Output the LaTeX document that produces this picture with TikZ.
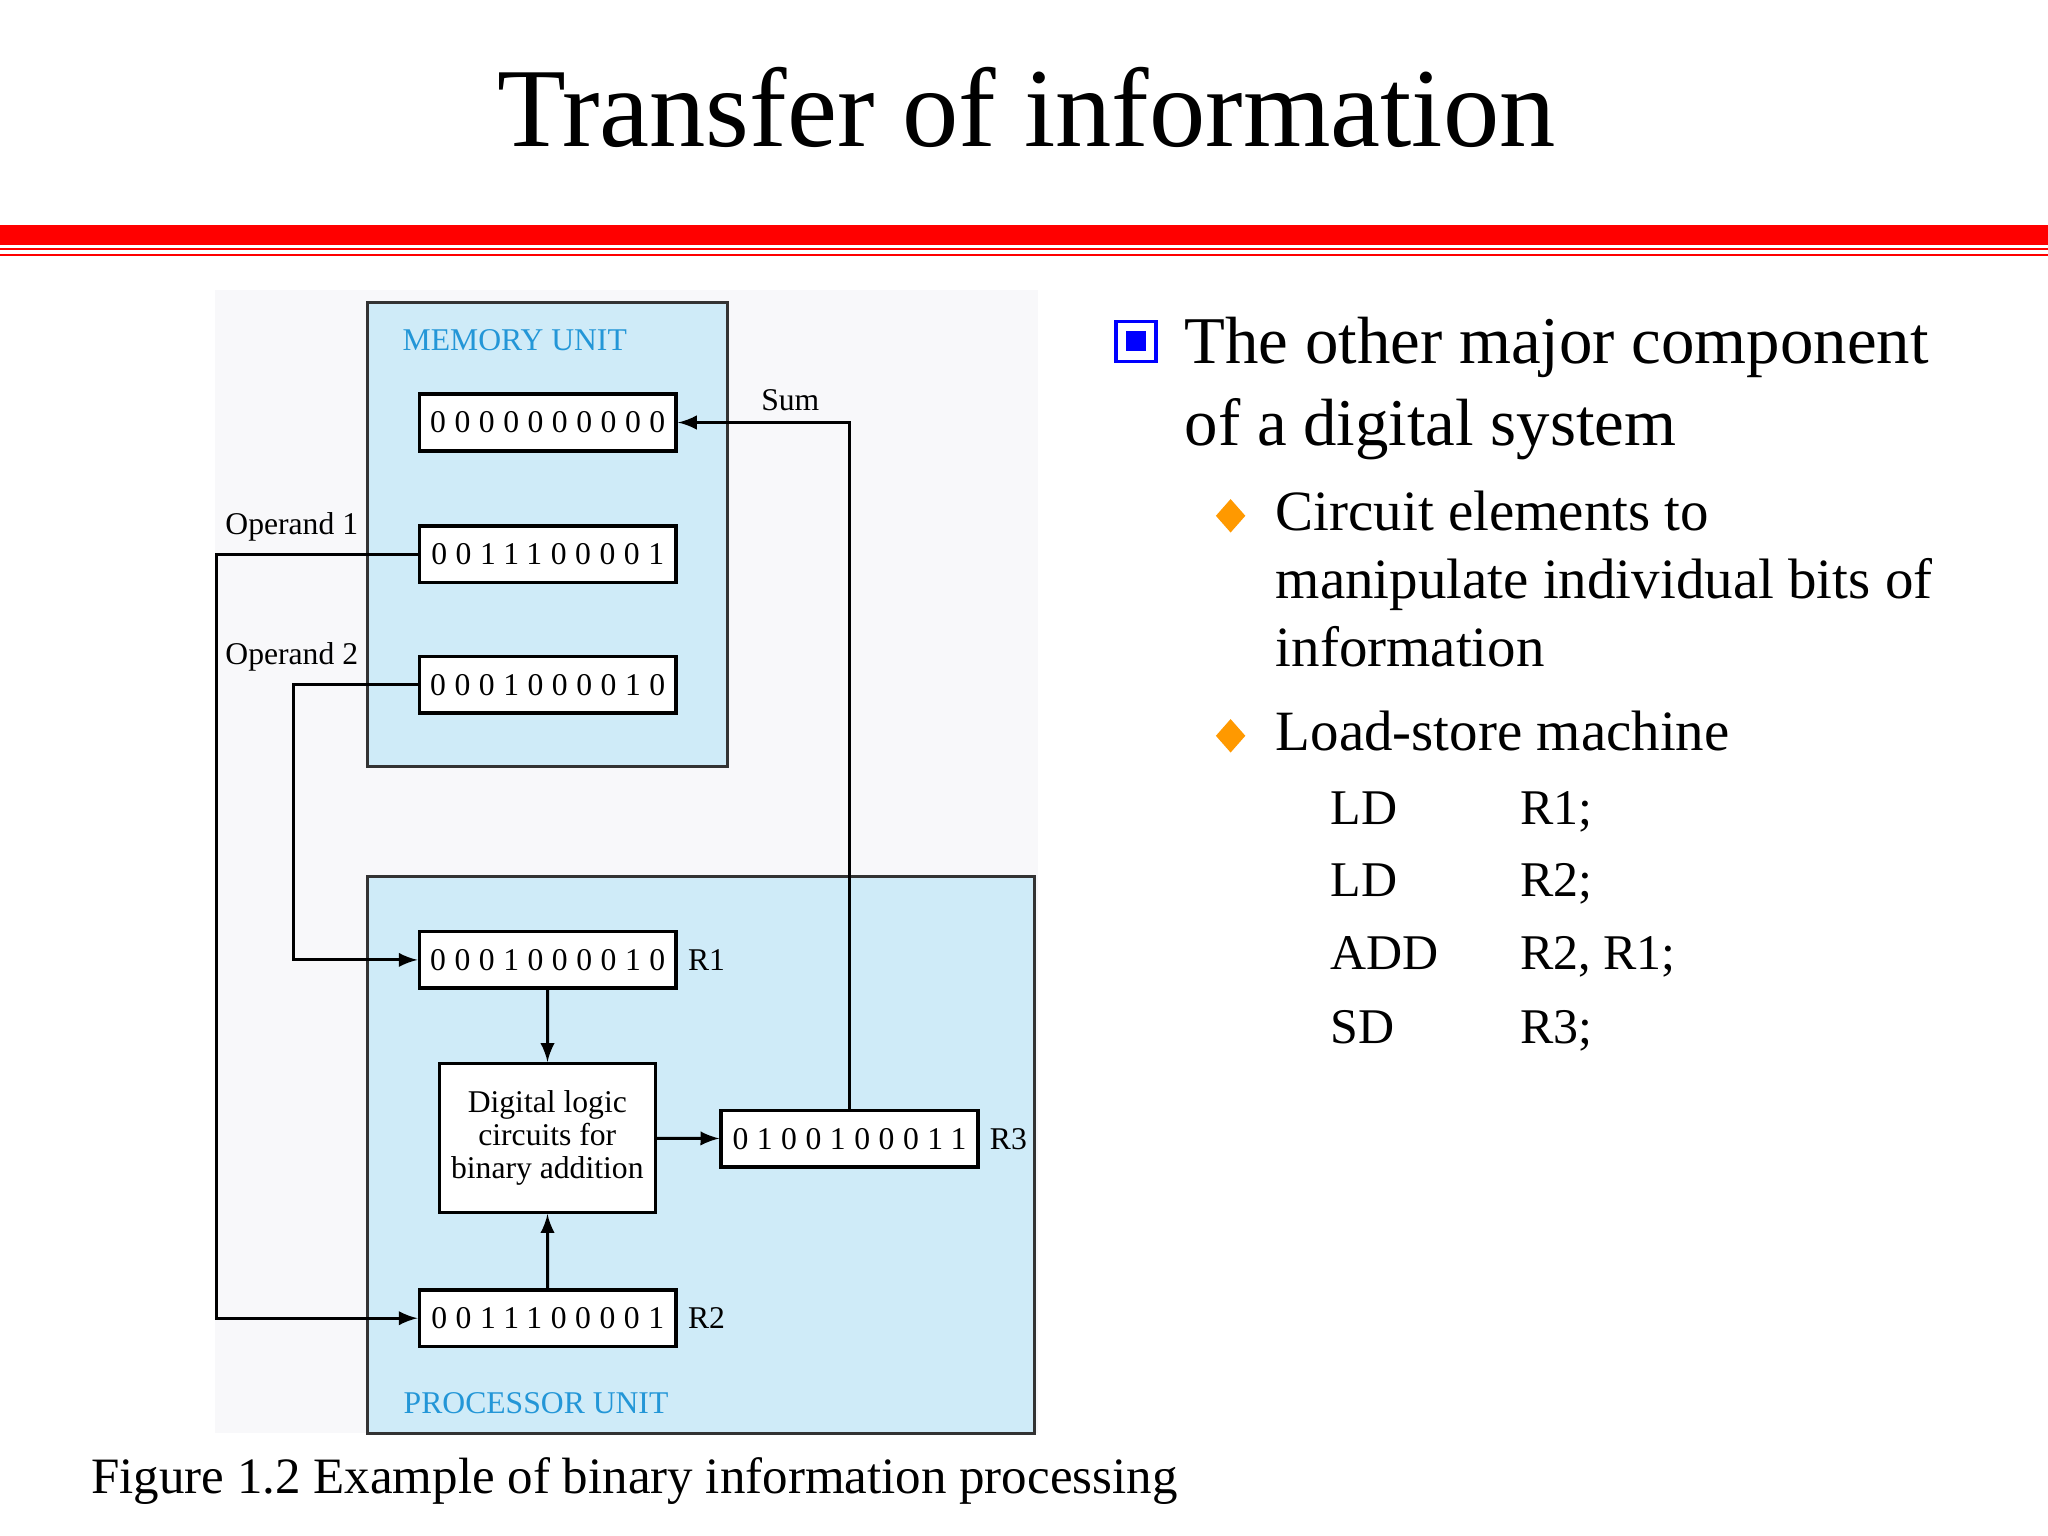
\documentclass[tikz,border=0pt]{standalone}
\usepackage{fontspec}
\setmainfont{Liberation Serif}
\newfontfamily\bitfont[LetterSpace=27]{Liberation Serif}
\usetikzlibrary{positioning,shapes.geometric}
\definecolor{unitblue}{RGB}{207,235,248}
\definecolor{unitname}{RGB}{35,150,215}
\definecolor{bulletorange}{RGB}{255,153,0}
\definecolor{figback}{RGB}{248,248,250}

\begin{document}
\begin{tikzpicture}[
  x=0.01cm, y=-0.01cm,
  unit/.style={rectangle, draw=black!80, line width=0.85pt, fill=unitblue, inner sep=0pt},
  unitlabel/.style={anchor=base west, inner sep=0pt, text=unitname, font=\fontsize{9}{10}\selectfont},
  reg/.style={rectangle, draw, line width=1pt, fill=white, minimum width=2.567cm, minimum height=0.565cm, inner sep=0pt, font=\bitfont\fontsize{9}{10}\selectfont},
  lbl/.style={inner sep=0pt, font=\fontsize{9}{10}\selectfont},
  wire/.style={line width=0.85pt, -latex},
  main/.style={anchor=base west, inner sep=0pt, align=left, font=\fontsize{19}{23.2}\selectfont},
  sub/.style={anchor=base west, inner sep=0pt, align=left, font=\fontsize{16.2}{19.4}\selectfont},
  code/.style={anchor=base west, inner sep=0pt, font=\fontsize{14.2}{17}\selectfont},
  dia/.style={diamond, fill=bulletorange, minimum width=0.30cm, minimum height=0.34cm, inner sep=0pt}
]
  \fill[white] (0,0) rectangle (2048,1536);
  \useasboundingbox (0,0) rectangle (2048,1536);

  % title and rule
  \node[anchor=base, inner sep=0pt, font=\fontsize{32}{38}\selectfont] (title) at (1026.5,146) {Transfer of information};
  \fill[red] (0,225) rectangle (2048,245);
  \draw[red, line width=0.6pt] (0,249) -- (2048,249);
  \draw[red, line width=0.6pt] (0,255) -- (2048,255);

  % figure
  \fill[figback] (215,290) rectangle (1038,1433);
  \node[unit, minimum width=3.604cm, minimum height=4.64cm] (mem) at (547.5,534.7) {};
  \node[unit, minimum width=6.665cm, minimum height=5.563cm] (proc) at (700.6,1154.9) {};
  \node[unitlabel] (memname) at (402,350) {MEMORY UNIT};
  \node[unitlabel] (procname) at (403,1413) {PROCESSOR UNIT};

  \node[reg] (m0) at (547.75,422.5) {0000000000};
  \node[reg] (m1) at (547.75,554) {0011100001};
  \node[reg] (m2) at (547.75,684.7) {0001000010};

  \node[reg] (r1) at (547.75,959.9) {0001000010};
  \node[reg] (r2) at (547.75,1318.2) {0011100001};
  \node[reg] (r3) at (849.5,1138.8) {0100100011};
  \node[lbl, right=2.7pt of r1] (r1name) {R1};
  \node[lbl, right=2.7pt of r2] (r2name) {R2};
  \node[lbl, right=2.7pt of r3] (r3name) {R3};

  \node[rectangle, draw, line width=1pt, fill=white, minimum width=2.117cm, minimum height=1.487cm,
        align=center, font=\fontsize{9}{9.5}\selectfont] (logic) at (547.3,1138)
        {Digital logic\\circuits for\\binary addition};

  \node[lbl, anchor=base west] (sum) at (760.6,410) {Sum};
  \node[lbl, anchor=base west] (op1) at (224.7,534) {Operand 1};
  \node[lbl, anchor=base west] (op2) at (224.7,664) {Operand 2};

  \coordinate (op1bend) at (216.5,554);
  \coordinate (op2bend) at (293.3,684.7);
  \draw[wire] (r3.north) |- (m0.east);
  \draw[wire] (m1.west) -- (op1bend) |- (r2.west);
  \draw[wire] (m2.west) -- (op2bend) |- (r1.west);
  \draw[wire] (r1) -- (logic);
  \draw[wire] (r2) -- (logic);
  \draw[wire] (logic) -- (r3);

  \node[anchor=base west, inner sep=0pt, font=\fontsize{14.5}{17}\selectfont] (caption) at (90.6,1493.3)
    {Figure 1.2 Example of binary information processing};

  % bullets (multi-line nodes sit on their last baseline)
  \node[draw=blue, line width=0.9pt, fill=white, minimum size=0.40cm, inner sep=0pt] (sq) at (1136,341.3) {};
  \node[fill=blue, minimum size=0.20cm, inner sep=0pt] (sqin) at (sq) {};
  \node[main] (point) at (1184,445) {The other major component\\of a digital system};
  \node[dia] (d1) at (1230.6,515.8) {};
  \node[sub] (circ) at (1275,666.7) {Circuit elements to\\manipulate individual bits of\\information};
  \node[dia] (d2) at (1230.6,735.8) {};
  \node[sub] (ldst) at (1275,750) {Load-store machine};

  \node[code] (op-a) at (1330,824) {LD};
  \node[code] (arg-a) at (1519.6,824) {R1;};
  \node[code] (op-b) at (1330,896.7) {LD};
  \node[code] (arg-b) at (1519.6,896.7) {R2;};
  \node[code] (op-c) at (1330,969.3) {ADD};
  \node[code] (arg-c) at (1519.6,969.3) {R2, R1;};
  \node[code] (op-d) at (1330,1043.3) {SD};
  \node[code] (arg-d) at (1519.6,1043.3) {R3;};
\end{tikzpicture}
\end{document}
